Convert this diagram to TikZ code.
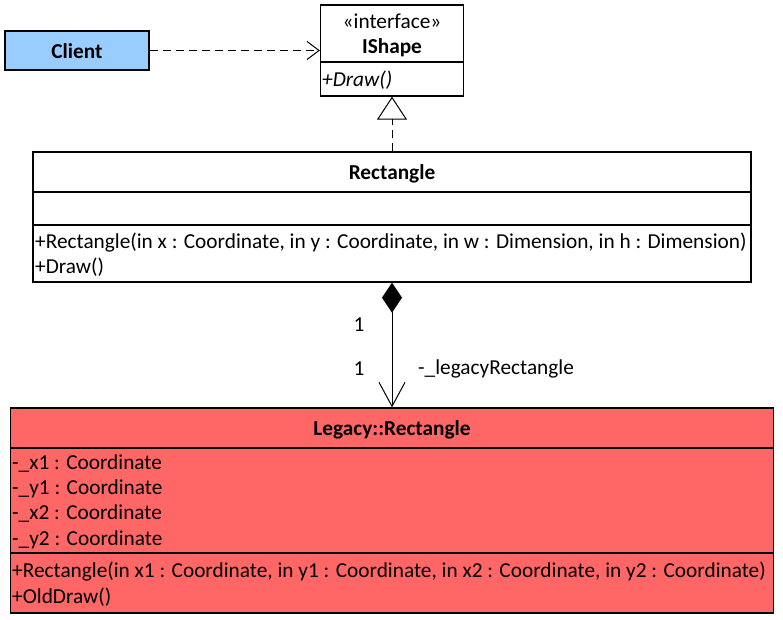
\documentclass[tikz,border=0pt]{standalone}
\usepackage{fontspec}
\setmainfont{Carlito}
\usetikzlibrary{arrows.meta}

\definecolor{clientblue}{HTML}{99CCFF}
\definecolor{legacyred}{HTML}{FF6666}

\tikzset{
  classbox/.style={draw=black, line width=1.3pt, inner sep=0pt},
  classname/.style={font=\fontsize{21.3}{25}\selectfont\bfseries, inner sep=0pt, yshift=-1.5pt},
  member/.style={anchor=west, inner sep=0pt, font=\fontsize{21.3}{25}\selectfont, yshift=-1.5pt},
  divider/.style={line width=1.3pt},
  dependency/.style={line width=1pt, dash pattern=on 8pt off 5pt, -{Straight Barb[length=12pt,width=18pt,line width=1pt]}},
  realization/.style={line width=1pt, dash pattern=on 8pt off 5pt, -{Triangle[open,length=23pt,width=30pt,line width=1pt]}},
  composition/.style={line width=1pt, {Diamond[length=30pt,width=20pt]}-{Straight Barb[length=24pt,width=26pt,line width=1pt]}},
}

\begin{document}
\begin{tikzpicture}[x=1pt,y=-1pt]
    \useasboundingbox (0,0) rectangle (783,619);

    % client
    \node[classbox, fill=clientblue, minimum width=144pt, minimum height=39pt] (client) at (77,50.5) {};
    \node[classname] (clientname) at (77,50) {Client};

    % interface
    \node[classbox, fill=white, minimum width=143pt, minimum height=91pt] (ishape) at (392,50.5) {};
    \draw[divider] (ishape.west |- 0,62) -- (ishape.east |- 0,62);
    \node[font=\fontsize{21.3}{25}\selectfont, inner sep=0pt, yshift=-1.5pt] (stereo) at (392,20) {«interface»};
    \node[classname] (ishapename) at (392,46) {IShape};
    \node[member, font=\fontsize{21.3}{25}\selectfont\itshape] (idraw) at (322,79) {+Draw()};

    % adapter
    \node[classbox, fill=white, minimum width=718pt, minimum height=130pt] (rect) at (392,217) {};
    \draw[divider] (rect.west |- 0,192) -- (rect.east |- 0,192);
    \draw[divider] (rect.west |- 0,225) -- (rect.east |- 0,225);
    \node[classname] (rectname) at (392,172) {Rectangle};
    \node[member] (rectctor) at (35,241) {+Rectangle(in x : Coordinate, in y : Coordinate, in w : Dimension, in h : Dimension)};
    \node[member] (rectdraw) at (35,266) {+Draw()};

    % adaptee
    \node[classbox, fill=legacyred, minimum width=763pt, minimum height=205pt] (legacy) at (392,510.5) {};
    \draw[divider] (legacy.west |- 0,448) -- (legacy.east |- 0,448);
    \draw[divider] (legacy.west |- 0,553) -- (legacy.east |- 0,553);
    \node[classname] (legacyname) at (392,428) {Legacy::Rectangle};
    \node[member] (ax1) at (12,462) {-\_x1 : Coordinate};
    \node[member] (ay1) at (12,487) {-\_y1 : Coordinate};
    \node[member] (ax2) at (12,512) {-\_x2 : Coordinate};
    \node[member] (ay2) at (12,538) {-\_y2 : Coordinate};
    \node[member] (legacyctor) at (12,570) {+Rectangle(in x1 : Coordinate, in y1 : Coordinate, in x2 : Coordinate, in y2 : Coordinate)};
    \node[member] (legacydraw) at (12,596) {+OldDraw()};

    % relations
    \draw[dependency] (client.east) -- (ishape.west |- client.east);
    \draw[realization] (rect.north) -- (ishape.south);
    \draw[composition] (rect.south) -- (legacy.north);
    \node[font=\fontsize{21.3}{25}\selectfont, inner sep=0pt, yshift=-1.5pt] (multsrc) at (359,323) {1};
    \node[font=\fontsize{21.3}{25}\selectfont, inner sep=0pt, yshift=-1.5pt] (multdst) at (359,367) {1};
    \node[member] (role) at (418,367) {-\_legacyRectangle};
\end{tikzpicture}
\end{document}
